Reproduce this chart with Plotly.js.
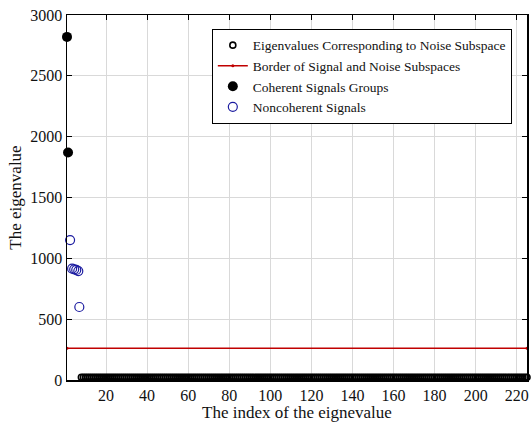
<!DOCTYPE html>
<html>
<head>
<meta charset="utf-8">
<script src="https://cdn.plot.ly/plotly-3.0.1.min.js"></script>
<style>html,body{margin:0;padding:0;background:#fff;}#chart{width:531px;height:422px;}</style>
</head>
<body>
<div id="chart"></div>
<script>
// Coherent signal groups
var coherentX = [1, 1.5];
var coherentY = [2820, 1870];
// Noncoherent signals
var noncoherentX = [2.5, 3.5, 4.5, 5.5, 6.5, 7];
var noncoherentY = [1150, 915, 910, 905, 895, 600];
// Noise subspace eigenvalues (indices 8..225), all close to zero
var noiseStart = 8, noiseEnd = 225;
var noiseX = [];
var noiseY = [];
for (var i = noiseStart; i <= noiseEnd; i++) { noiseX.push(i); noiseY.push(22); }
// Border between signal and noise subspaces
var borderX = [1, 225];
var borderY = [260, 260];
var xTicks = [20, 40, 60, 80, 100, 120, 140, 160, 180, 200, 220];
var yTicks = [0, 500, 1000, 1500, 2000, 2500, 3000];

var font = 'Liberation Serif, Times New Roman, serif';
var traces = [
  {x: noiseX, y: noiseY, mode: 'markers', type: 'scatter', name: 'Eigenvalues Corresponding to Noise Subspace',
   marker: {symbol: 'circle-open', size: 6, color: '#000', line: {width: 1.6, color: '#000'}}, cliponaxis: false},
  {x: borderX, y: borderY, mode: 'lines+markers', type: 'scatter', name: 'Border of Signal and Noise Subspaces',
   line: {color: '#c00000', width: 1.5}, marker: {size: 3, color: '#c00000'}},
  {x: coherentX, y: coherentY, mode: 'markers', type: 'scatter', name: 'Coherent Signals Groups',
   marker: {symbol: 'circle', size: 10, color: '#000'}, cliponaxis: false},
  {x: noncoherentX, y: noncoherentY, mode: 'markers', type: 'scatter', name: 'Noncoherent Signals',
   marker: {symbol: 'circle-open', size: 9, color: '#1c1ca0', line: {width: 1.2, color: '#1c1ca0'}}, cliponaxis: false}
];
var layout = {
  width: 531, height: 422,
  margin: {l: 67, r: 4, t: 15, b: 42},
  paper_bgcolor: '#fff', plot_bgcolor: '#fff',
  font: {family: font, size: 14, color: '#111'},
  showlegend: true,
  legend: {x: 0.967, y: 0.962, xanchor: 'right', yanchor: 'top', bgcolor: '#fff', bordercolor: '#000', borderwidth: 1,
           font: {family: font, size: 13.5, color: '#111'}, tracegroupgap: 0, itemwidth: 30},
  xaxis: {range: [1, 225], tickvals: xTicks, ticktext: xTicks.map(String), showgrid: true, gridcolor: '#d9d9d9',
          showline: true, linecolor: '#000', linewidth: 1.5, mirror: 'ticks', ticks: 'inside', ticklen: 5, tickcolor: '#000',
          zeroline: false, tickfont: {family: font, size: 16, color: '#111'},
          title: {text: 'The index of the eignevalue', font: {family: font, size: 17, color: '#111'}, standoff: 0}},
  yaxis: {range: [0, 3000], tickvals: yTicks, ticktext: yTicks.map(String), showgrid: true, gridcolor: '#d9d9d9',
          showline: true, linecolor: '#000', linewidth: 1.5, mirror: 'ticks', ticks: 'inside', ticklen: 5, tickcolor: '#000',
          zeroline: false, tickfont: {family: font, size: 16, color: '#111'},
          title: {text: 'The eigenvalue', font: {family: font, size: 17, color: '#111'}, standoff: 4}}
};
Plotly.newPlot('chart', traces, layout, {displayModeBar: false, staticPlot: true});
</script>
</body>
</html>
